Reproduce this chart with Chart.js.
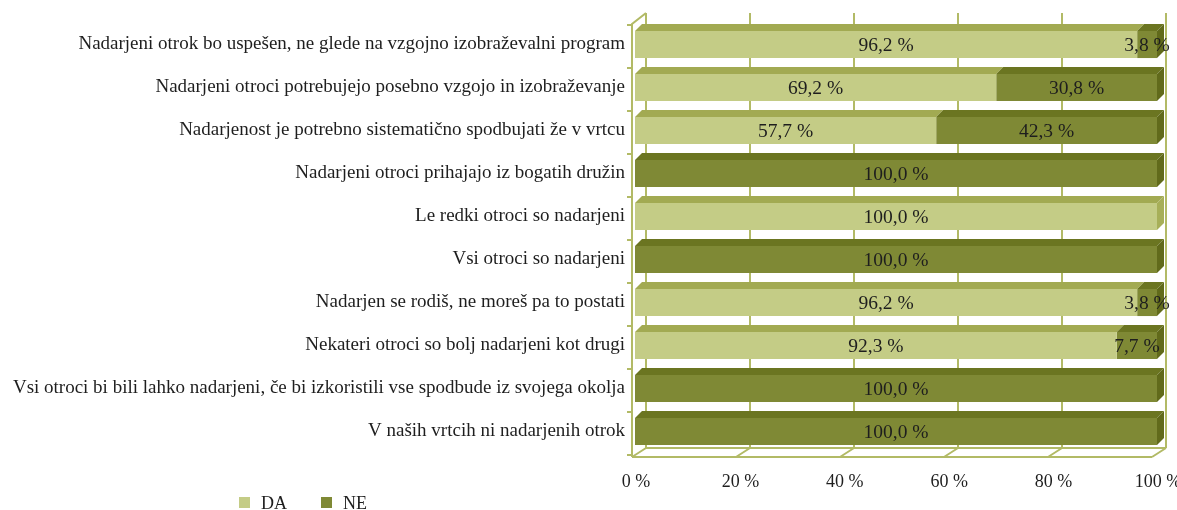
<!DOCTYPE html>
<html>
<head>
<meta charset="utf-8">
<script src="https://cdn.jsdelivr.net/npm/chart.js@4.4.1/dist/chart.umd.min.js"></script>
<style>
  html, body { margin: 0; padding: 0; background: #ffffff; }
  #wrap { position: relative; width: 1177px; height: 510px; }
</style>
</head>
<body>
<div id="wrap"><canvas id="c" width="1177" height="510"></canvas></div>
<script>
const categories = [
  "Nadarjeni otrok bo uspešen, ne glede na vzgojno izobraževalni program",
  "Nadarjeni otroci potrebujejo posebno vzgojo in izobraževanje",
  "Nadarjenost je potrebno sistematično spodbujati že v vrtcu",
  "Nadarjeni otroci prihajajo iz bogatih družin",
  "Le redki otroci so nadarjeni",
  "Vsi otroci so nadarjeni",
  "Nadarjen se rodiš, ne moreš pa to postati",
  "Nekateri otroci so bolj nadarjeni kot drugi",
  "Vsi otroci bi bili lahko nadarjeni, če bi izkoristili vse spodbude iz svojega okolja",
  "V naših vrtcih ni nadarjenih otrok"
];
const seriesNames = ["DA", "NE"];
const daValues = [96.2, 69.2, 57.7, 0, 100, 0, 96.2, 92.3, 0, 0];
const neValues = [3.8, 30.8, 42.3, 100, 0, 100, 3.8, 7.7, 100, 100];
const xTicks = [0, 20, 40, 60, 80, 100];

const FONT = "'Liberation Serif', 'DejaVu Serif', serif";
const colors = {
  da: { front: "#c4cc86", top: "#a2aa52", side: "#a7af58" },
  ne: { front: "#7f8935", top: "#6b7521", side: "#616a1b" }
};
const WALL = "#b2ba66";
const DEPTH = { dx: 7, dy: 7 };

function fmt(v) { return v.toFixed(1).replace(".", ",") + " %"; }

const threeD = {
  id: "threeD",
  beforeDatasetsDraw(chart) {
    const ctx = chart.ctx;
    const xs = chart.scales.x;
    const a = chart.chartArea;
    const fx = v => xs.getPixelForValue(v) - 3 - v * 0.02;
    const bx = v => fx(v) + 14;
    const fTop = a.top + 1, fBot = a.bottom + 4;
    const bTop = a.top - 10, bBot = a.bottom - 5;
    ctx.save();
    ctx.strokeStyle = WALL;
    ctx.lineWidth = 2;
    ctx.beginPath();
    xTicks.forEach(v => {
      ctx.moveTo(bx(v), bTop); ctx.lineTo(bx(v), bBot);
      ctx.moveTo(fx(v), fBot); ctx.lineTo(bx(v), bBot);
    });
    ctx.moveTo(fx(0), fBot); ctx.lineTo(fx(100), fBot);
    ctx.moveTo(bx(0), bBot); ctx.lineTo(bx(100), bBot);
    ctx.moveTo(fx(0), fBot); ctx.lineTo(fx(0), fTop); ctx.lineTo(bx(0), bTop);
    const n = categories.length;
    for (let i = 0; i <= n; i++) {
      const y = a.top + (a.bottom - a.top) * i / n + 2;
      ctx.moveTo(fx(0) - 5, y); ctx.lineTo(fx(0), y);
    }
    ctx.stroke();
    ctx.restore();
  },
  afterDatasetsDraw(chart) {
    const ctx = chart.ctx;
    const metas = [chart.getDatasetMeta(0), chart.getDatasetMeta(1)];
    const pal = [colors.da, colors.ne];
    ctx.save();
    categories.forEach((c, i) => {
      const vals = [daValues[i], neValues[i]];
      const last = vals[1] > 0 ? 1 : 0;
      for (let d = 0; d < 2; d++) {
        if (vals[d] <= 0) continue;
        const p = metas[d].data[i].getProps(["x", "y", "base", "height"], true);
        const x0 = Math.min(p.base, p.x), x1 = Math.max(p.base, p.x);
        const yT = p.y - p.height / 2, yB = p.y + p.height / 2;
        ctx.fillStyle = pal[d].top;
        ctx.beginPath();
        ctx.moveTo(x0, yT); ctx.lineTo(x0 + DEPTH.dx, yT - DEPTH.dy);
        ctx.lineTo(x1 + DEPTH.dx, yT - DEPTH.dy); ctx.lineTo(x1, yT);
        ctx.closePath(); ctx.fill();
        if (d === last) {
          ctx.fillStyle = pal[d].side;
          ctx.beginPath();
          ctx.moveTo(x1, yT); ctx.lineTo(x1 + DEPTH.dx, yT - DEPTH.dy);
          ctx.lineTo(x1 + DEPTH.dx, yB - DEPTH.dy); ctx.lineTo(x1, yB);
          ctx.closePath(); ctx.fill();
        }
      }
    });
    ctx.fillStyle = "#1e1e1e";
    ctx.font = "19.5px " + FONT;
    ctx.textAlign = "center";
    ctx.textBaseline = "middle";
    categories.forEach((c, i) => {
      const vals = [daValues[i], neValues[i]];
      for (let d = 0; d < 2; d++) {
        if (vals[d] <= 0) continue;
        const p = metas[d].data[i].getProps(["x", "y", "base"], true);
        ctx.fillText(fmt(vals[d]), (p.x + p.base) / 2, p.y + 1);
      }
    });
    ctx.restore();
  },
  afterDraw(chart) {
    const ctx = chart.ctx;
    ctx.save();
    ctx.font = "18px " + FONT;
    ctx.textBaseline = "alphabetic";
    ctx.textAlign = "left";
    const items = [
      { x: 239, tx: 261, col: colors.da.front, label: seriesNames[0] },
      { x: 321, tx: 343, col: colors.ne.front, label: seriesNames[1] }
    ];
    items.forEach(it => {
      ctx.fillStyle = it.col;
      ctx.fillRect(it.x, 497, 11, 11);
      ctx.fillStyle = "#1e1e1e";
      ctx.fillText(it.label, it.tx, 509);
    });
    ctx.restore();
  }
};

new Chart(document.getElementById("c"), {
  type: "bar",
  data: {
    labels: categories,
    datasets: [
      { label: seriesNames[0], data: daValues, backgroundColor: colors.da.front, borderWidth: 0 },
      { label: seriesNames[1], data: neValues, backgroundColor: colors.ne.front, borderWidth: 0 }
    ]
  },
  options: {
    indexAxis: "y",
    responsive: false,
    animation: false,
    devicePixelRatio: 1,
    layout: { padding: { top: 23, right: 20, left: 0, bottom: 0 } },
    datasets: { bar: { barPercentage: 0.63, categoryPercentage: 1.0 } },
    plugins: { legend: { display: false }, tooltip: { enabled: false } },
    scales: {
      x: {
        stacked: true, min: 0, max: 100,
        afterBuildTicks: s => { s.ticks = xTicks.map(v => ({ value: v })); },
        afterFit: s => { s.height = 57; s.paddingLeft = 0; s.paddingRight = 0; },
        grid: { display: false, drawTicks: false },
        border: { display: false },
        ticks: {
          padding: 18, labelOffset: 1, color: "#1e1e1e", maxRotation: 0,
          font: { family: FONT, size: 18 },
          callback: v => v + " %"
        }
      },
      y: {
        stacked: true,
        afterFit: s => { s.width = 635; s.paddingTop = 0; s.paddingBottom = 0; },
        grid: { display: false, drawTicks: false },
        border: { display: false },
        ticks: {
          padding: 10, color: "#1e1e1e",
          font: { family: FONT, size: 19 }
        }
      }
    }
  },
  plugins: [threeD]
});
</script>
</body>
</html>
